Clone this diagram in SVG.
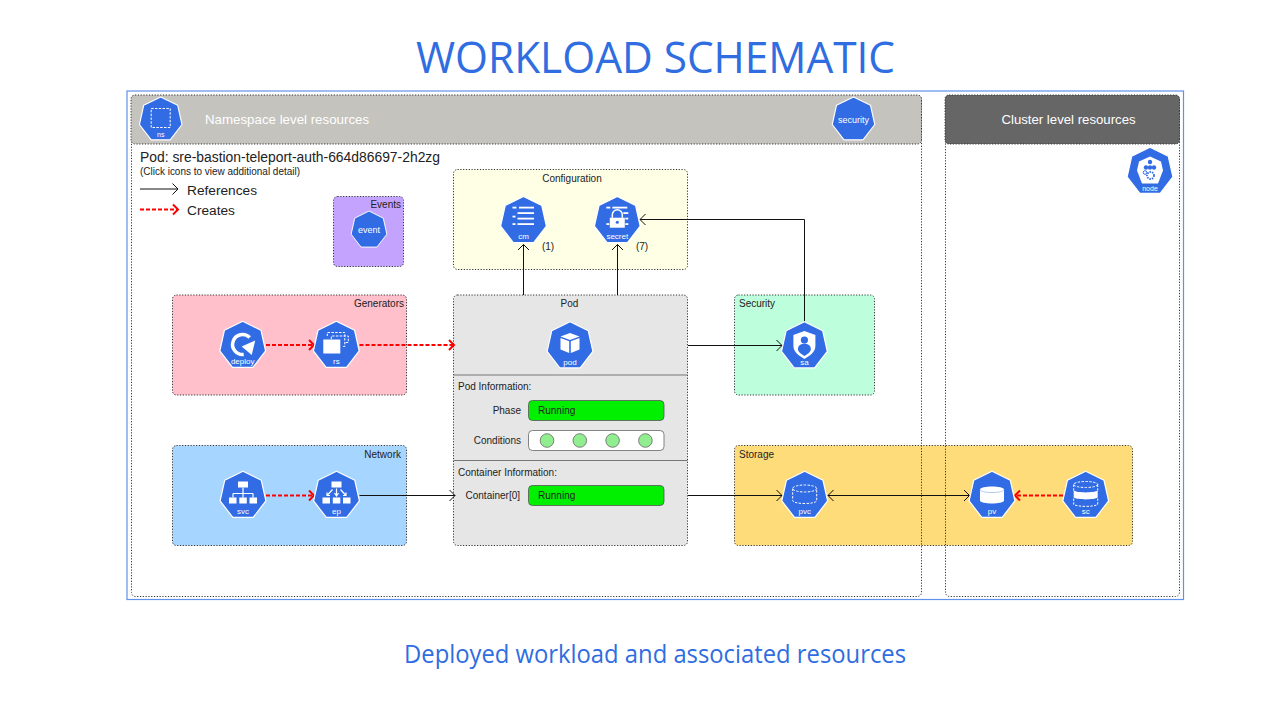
<svg xmlns="http://www.w3.org/2000/svg" width="1280" height="720" viewBox="0 0 1280 720">
<style>
text{font-family:"Liberation Sans",Arial,sans-serif;fill:#222}
.title{font-family:"Open Sans","Liberation Sans",sans-serif;fill:#2f6de1}
.box{stroke:#333;stroke-width:1;stroke-dasharray:1.2 1.6}
.edge{stroke:#333;stroke-width:1;stroke-dasharray:1.2 1.6;fill:none}
.lbl{font-size:10px}
.hb{fill:#326ce5;stroke:#fff;stroke-width:1.2;stroke-linejoin:round}
.il{font-size:8px;fill:#fff;text-anchor:middle}
.wf{fill:#fff}
.ws{fill:none;stroke:#fff;stroke-width:1.2}
.wd{fill:none;stroke:#fff;stroke-width:1;stroke-dasharray:2.4 1.4}
.ref{fill:none;stroke:#111;stroke-width:1}
.cre{fill:none;stroke:#f00;stroke-width:1.8;stroke-dasharray:4 2}
.st{fill:#00f000;stroke:#555;stroke-width:.8}
.dot{fill:#90ee90;stroke:#666;stroke-width:.8}
</style>
<defs>
<marker id="ah" markerUnits="userSpaceOnUse" markerWidth="12" markerHeight="14" refX="9" refY="7" orient="auto-start-reverse"><path d="M3.500 1.500L9 7L3.500 12.500" fill="none" stroke="#111" stroke-width="1"/></marker>
<marker id="ahr" markerUnits="userSpaceOnUse" markerWidth="12" markerHeight="14" refX="9" refY="7" orient="auto"><path d="M4 2L9 7L4 12" fill="none" stroke="#f00" stroke-width="2"/></marker>
<polygon id="hept" points="0,-24.300 18.300,-15.200 22.900,5.400 10.200,21.900 -10.200,21.900 -22.900,5.400 -18.300,-15.200"/>
</defs>
<rect width="1280" height="720" fill="#fff"/>
<text class="title" x="655.500" y="73" font-size="44" text-anchor="middle" textLength="479" lengthAdjust="spacingAndGlyphs">WORKLOAD SCHEMATIC</text>
<text class="title" x="655" y="663" font-size="25" text-anchor="middle" textLength="502" lengthAdjust="spacingAndGlyphs">Deployed workload and associated resources</text>
<rect id="frame" x="127" y="91" width="1056.500" height="508.500" fill="none" stroke="#5f92ea" stroke-width="1.200"/>

<g id="group-storage"><rect class="box" x="734.500" y="445.500" width="398" height="100" rx="4" fill="#ffdc7a"/><text class="lbl" x="739" y="457.500">Storage</text></g>

<g id="panel-namespace">
<rect class="edge" x="131.500" y="95.500" width="790" height="501" rx="4"/>
<rect x="131" y="95" width="790.500" height="49" rx="4" fill="#c4c3be" class="box"/>
<text x="205" y="124" font-size="13.300" style="fill:#fff">Namespace level resources</text>
</g>
<g id="panel-cluster">
<rect class="edge" x="945.500" y="95.500" width="234" height="501" rx="4"/>
<rect x="945" y="95" width="234.500" height="49" rx="4" fill="#666" class="box"/>
<text x="1068.500" y="124" font-size="13.200" text-anchor="middle" style="fill:#fff">Cluster level resources</text>
</g>

<g id="legend">
<text x="140" y="162" font-size="14" textLength="300" lengthAdjust="spacingAndGlyphs">Pod: sre-bastion-teleport-auth-664d86697-2h2zg</text>
<text x="140" y="175" font-size="10" textLength="160" lengthAdjust="spacingAndGlyphs">(Click icons to view additional detail)</text>
<text x="187" y="194.500" font-size="13.700">References</text>
<text x="187" y="214.500" font-size="13.700">Creates</text>
</g>

<g id="group-events"><rect class="box" x="333.500" y="196.500" width="70" height="70" rx="4" fill="#c4a3ff"/><text class="lbl" x="401" y="207.500" text-anchor="end">Events</text></g>
<g id="group-configuration"><rect class="box" x="453.500" y="169.500" width="234" height="100" rx="4" fill="#ffffe6"/><text class="lbl" x="572" y="181.500" text-anchor="middle">Configuration</text><text class="lbl" x="548" y="249.500" text-anchor="middle">(1)</text><text class="lbl" x="642" y="249.500" text-anchor="middle">(7)</text></g>
<g id="group-generators"><rect class="box" x="172.500" y="295" width="234" height="100" rx="4" fill="#ffc0cb"/><text class="lbl" x="404" y="307" text-anchor="end">Generators</text></g>
<g id="group-network"><rect class="box" x="172.500" y="445.500" width="234" height="100" rx="4" fill="#a6d5ff"/><text class="lbl" x="401" y="457.500" text-anchor="end">Network</text></g>
<g id="group-security"><rect class="box" x="734.500" y="295" width="140" height="100" rx="4" fill="#bdffdc"/><text class="lbl" x="739" y="307">Security</text></g>

<g id="group-pod">
<rect class="box" x="453.500" y="295" width="234" height="250.500" rx="4" fill="#e6e6e6"/>
<path d="M453.500 375H687.500M453.500 460.500H687.500" stroke="#777" stroke-width="1"/>
<text class="lbl" x="569.500" y="307" text-anchor="middle">Pod</text>
<text class="lbl" x="458" y="390">Pod Information:</text>
<text class="lbl" x="521" y="413.500" text-anchor="end">Phase</text>
<rect class="st" x="528.500" y="400.500" width="135.500" height="20" rx="4"/>
<text class="lbl" x="538" y="413.500">Running</text>
<text class="lbl" x="521" y="443.500" text-anchor="end">Conditions</text>
<rect x="528.500" y="430.500" width="135.500" height="20" rx="4" fill="#fff" stroke="#666" stroke-width=".8"/>
<circle class="dot" cx="547" cy="440.500" r="6.800"/><circle class="dot" cx="579.800" cy="440.500" r="6.800"/><circle class="dot" cx="612.600" cy="440.500" r="6.800"/><circle class="dot" cx="645.400" cy="440.500" r="6.800"/>
<text class="lbl" x="520" y="498.500" text-anchor="end">Container[0]</text>
<text class="lbl" x="458" y="475.500">Container Information:</text>
<rect class="st" x="528.500" y="485.500" width="135.500" height="20" rx="4"/>
<text class="lbl" x="538" y="498.500">Running</text>
</g>

<g id="connectors">
<path class="ref" d="M140 189H178" marker-end="url(#ah)"/>
<path class="cre" d="M140 209.500H178" marker-end="url(#ahr)"/>
<path class="cre" d="M266 345H314" marker-end="url(#ahr)"/>
<path class="cre" d="M359.500 345H454" marker-end="url(#ahr)"/>
<path class="cre" d="M266 495.500H314" marker-end="url(#ahr)"/>
<path class="ref" d="M359.500 495.500H455" marker-end="url(#ah)"/>
<path class="ref" d="M523.500 295V244.500" marker-end="url(#ah)"/>
<path class="ref" d="M617.500 295V244.500" marker-end="url(#ah)"/>
<path class="ref" d="M804.500 322V219.500H640" marker-end="url(#ah)"/>
<path class="ref" d="M688 345.500H782" marker-end="url(#ah)"/>
<path class="ref" d="M688 495.500H782" marker-end="url(#ah)"/>
<path class="ref" d="M828 495.500H969.500" marker-start="url(#ah)" marker-end="url(#ah)"/>
<path class="cre" d="M1063 495.500H1015" marker-end="url(#ahr)"/>
</g>

<g id="ns" transform="translate(160.700 119.500)"><use href="#hept" class="hb" transform="scale(.93)"/><rect class="wd" x="-9.500" y="-11" width="19" height="19" stroke-dasharray="1.500 1"/><text class="il" y="17" style="font-size:7px">ns</text></g>
<g id="security" transform="translate(853.500 119.500)"><use href="#hept" class="hb" transform="scale(.93)"/><text class="il" y="3.500" style="font-size:9px">security</text></g>
<g id="event" transform="translate(369 230)"><use href="#hept" class="hb" transform="scale(.78)"/><text class="il" y="3" style="font-size:9px">event</text></g>
<g id="node" transform="translate(1150 171.500)"><use href="#hept" class="hb"/>
<path class="wf" d="M0-15L11-10L13-1L8 12L-8 12L-13-1L-11-10Z"/>
<g fill="#326ce5"><circle cx="0" cy="-9.500" r="2.200"/><circle cx="-4" cy="-4" r="2.200"/><circle cx="0" cy="-4" r="2.200"/><circle cx="4" cy="-4" r="2.200"/></g>
<circle cx="0.500" cy="4" r="3.500" fill="none" stroke="#326ce5" stroke-width="1.800" stroke-dasharray="1.500 1"/><circle cx="-5" cy="1" r="1.800" fill="none" stroke="#326ce5"/>
<text class="il" y="19.500" style="font-size:7px">node</text></g>
<g id="cm" transform="translate(523.500 220.700)"><use href="#hept" class="hb"/>
<g class="wf"><rect x="-11" y="-14" width="4" height="1.800"/><rect x="-4.500" y="-14" width="15" height="1.800"/><rect x="-6" y="-8.500" width="16.500" height="1.800"/><rect x="-6" y="-3" width="16.500" height="1.800"/><rect x="-6" y="2.500" width="16.500" height="1.800"/><rect x="-11" y="2.500" width="3" height="1.800"/><rect x="-11" y="-5" width="3" height="1.800"/></g>
<text class="il" y="18">cm</text></g>
<g id="secret" transform="translate(617.300 220.700)"><use href="#hept" class="hb"/>
<g class="wf"><rect x="-11" y="-14" width="4" height="1.800"/><rect x="-5" y="-14" width="15" height="1.800"/><rect x="-11" y="2.500" width="3" height="1.800"/><rect x="6" y="-8.500" width="5" height="1.800"/><rect x="8" y="-3" width="3" height="1.800"/><rect x="8" y="2.500" width="3" height="1.800"/></g>
<path d="M-5-3V-6A4.800 4.800 0 0 1 5-6V-3" class="ws" style="stroke-width:1.500"/><path class="wf" d="M-7.500-3H7.500V7H-7.500Z"/><circle cy="1.500" r="1.500" fill="#326ce5"/>
<text class="il" y="18">secret</text></g>
<g id="pod-icon" transform="translate(570 346)"><use href="#hept" class="hb"/>
<path class="wf" d="M0-13L9.500-9.500L0-6L-9.500-9.500Z"/><path class="wf" d="M-9.500-8L-.8-4.800V7L-9.500 3.500Z"/><path class="wf" d="M9.500-8L.8-4.800V7L9.500 3.500Z"/>
<text class="il" y="18.500">pod</text></g>
<g id="deploy" transform="translate(242.700 345.500)"><use href="#hept" class="hb"/>
<path d="M7-8A10 10 0 1 0 1 9" fill="none" stroke="#fff" stroke-width="3.500"/><path class="wf" d="M12.500-5L9 9.500L-1 1Z"/>
<text class="il" y="18.500">deploy</text></g>
<g id="rs" transform="translate(336.300 345.500)"><use href="#hept" class="hb"/>
<rect class="wf" x="-13" y="-6" width="17" height="14"/><path class="wd" d="M-9-9.500V-13H8.500V1H5.500"/><path class="wd" d="M-5-6.500V-9.500H12V-3H8"/>
<text class="il" y="18.500">rs</text></g>
<g id="svc" transform="translate(243 495.500)"><use href="#hept" class="hb"/>
<rect class="wf" x="-5" y="-14" width="10" height="6"/><rect class="wf" x="-14" y="2" width="7.500" height="6"/><rect class="wf" x="-3.700" y="2" width="7.500" height="6"/><rect class="wf" x="6.500" y="2" width="7.500" height="6"/>
<path class="ws" d="M0-8V2M-10-2H10M-10-2V2M10-2V2"/>
<text class="il" y="18.500">svc</text></g>
<g id="ep" transform="translate(336.500 495.500)"><use href="#hept" class="hb"/>
<rect class="wf" x="-5" y="-14" width="10" height="6"/><rect class="wf" x="-14" y="2" width="7.500" height="6"/><rect class="wf" x="-3.700" y="2" width="7.500" height="6"/><rect class="wf" x="6.500" y="2" width="7.500" height="6"/>
<path class="ws" d="M0-7V-.5M-4-6L-9-.5M4-6L9-.5M-2-2.500L0 .5L2-2.500M-9.500-3L-9.500 0L-6.500 0M9.500-3L9.500 0L6.500 0"/>
<text class="il" y="18.500">ep</text></g>
<g id="sa" transform="translate(804.400 346)"><use href="#hept" class="hb"/>
<path class="wf" d="M0-15L11-11V0C11 6 5 10 0 13C-5 10-11 6-11 0V-11Z"/><circle cy="-6" r="3.600" fill="#326ce5"/><path d="M-6.500 3A6.500 5.500 0 0 1 6.500 3C6.500 6 3 8 0 10C-3 8-6.500 6-6.500 3Z" fill="#326ce5"/>
<text class="il" y="18.500">sa</text></g>
<g id="pvc" transform="translate(804.700 495.500)"><use href="#hept" class="hb"/>
<ellipse class="wd" cy="-7" rx="12" ry="3.500"/><path class="wd" d="M-12-7V5C-12 9 12 9 12 5V-7"/>
<text class="il" y="18.500">pvc</text></g>
<g id="pv" transform="translate(992 495.500)"><use href="#hept" class="hb"/>
<path class="wf" d="M-12-6C-12-10 12-10 12-6V5C12 9-12 9-12 5Z"/><path d="M-12-6C-12-2 12-2 12-6" fill="none" stroke="#9dbdf2" stroke-width=".8"/>
<text class="il" y="18.500">pv</text></g>
<g id="sc" transform="translate(1085.700 495.500)"><use href="#hept" class="hb"/>
<ellipse class="wd" cy="-11" rx="12" ry="3"/><path class="wd" d="M-12-11V-4M12-11V-4"/><path class="wf" d="M-12-5C-8-2.500 8-2.500 12-5V2C8 4.500-8 4.500-12 2Z"/><path class="wd" d="M-12 3V9C-8 11.500 8 11.500 12 9V3"/>
<text class="il" y="18.500">sc</text></g>
</svg>
